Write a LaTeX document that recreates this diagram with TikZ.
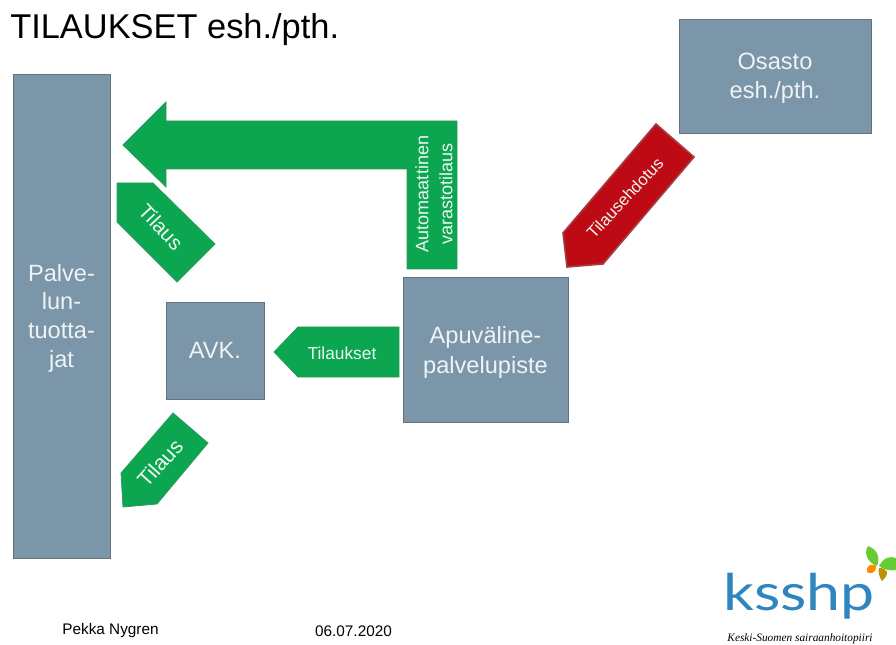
\documentclass[tikz,border=0pt]{standalone}
\usepackage{fontspec}
\setmainfont{Liberation Sans}
\newfontfamily\logofont{Lato}
\newfontfamily\logoserif{Liberation Serif}
\usetikzlibrary{positioning}
\definecolor{boxblue}{HTML}{7A96A8}
\definecolor{boxedge}{HTML}{62737F}
\definecolor{tagreen}{HTML}{0CA650}
\definecolor{tagred}{HTML}{BE0A14}
\definecolor{logoblue}{HTML}{2F86BE}
\tikzset{
  unitbox/.style={draw=boxedge, fill=boxblue, inner sep=0pt, line width=0.7pt},
  boxtext/.style={text=white!88!boxblue, align=center, inner sep=0pt, font=\fontsize{17.7}{21.5}\selectfont},
  greentag/.style={draw=tagreen!70!gray, fill=tagreen, line width=0.6pt},
  redtag/.style={draw=tagred!55!gray, fill=tagred, line width=1.2pt},
  taglabel/.style={text=white!92!tagreen, align=center, inner sep=0pt}
}
\begin{document}
\begin{tikzpicture}[x=0.75pt,y=-0.75pt]
  \useasboundingbox (0,0) rectangle (896,645);
  % Title
  \node[anchor=base west, inner sep=0pt, font=\fontsize{25.8}{30}\selectfont] (title) at (10,39) {TILAUKSET esh./pth.};
  % Boxes
  \node[unitbox, minimum width=72.75pt, minimum height=363pt, label={[boxtext, yshift=-1.5pt]center:{Palve-\\lun-\\tuotta-\\jat}}] (tuottajat) at (61.5,316) {};
  \node[unitbox, minimum width=144pt, minimum height=86pt, label={[boxtext, yshift=-1.5pt]center:{Osasto\\esh./pth.}}] (osasto) at (775,76.5) {};
  \node[unitbox, minimum width=73.5pt, minimum height=72.75pt, label={[boxtext]center:{AVK.}}] (avk) at (215,350.5) {};
  \node[unitbox, minimum width=123.75pt, minimum height=108.75pt, label={[boxtext, yshift=-2.5pt]center:{Apuväline-\\[1pt]palvelupiste}}] (piste) at (485.5,349.5) {};
  % Arrows
  \draw[greentag] (123,145) -- (166,102) -- (166,121) -- (457,121) -- (457,269) -- (407,269) -- (407,169) -- (166,169) -- (166,187) -- cycle;
  \draw[greentag] (117,183) -- (153,183) -- (215,244) -- (177,282) -- (117,222) -- cycle;
  \draw[greentag] (274,352) -- (298,327) -- (399,327) -- (399,377) -- (298,377) -- cycle;
  \draw[greentag] (173,413) -- (208,443) -- (157,504) -- (123,507) -- (121,473) -- cycle;
  \draw[redtag] (656,124) -- (694,157) -- (603,264) -- (567,267) -- (563,233) -- cycle;
  % Arrow labels
  \node[taglabel, rotate=90, font=\fontsize{13.5}{18}\selectfont] (automaatti) at (434,194) {Automaattinen\\varastotilaus};
  \node[taglabel, rotate=-47, font=\fontsize{15.5}{18}\selectfont] (tilausyla) at (161,227) {Tilaus};
  \node[taglabel, font=\fontsize{13}{15}\selectfont] (tilaukset) at (342,353) {Tilaukset};
  \node[taglabel, rotate=48, font=\fontsize{16}{18}\selectfont] (tilausala) at (160,463) {Tilaus};
  \node[taglabel, rotate=47, font=\fontsize{12.5}{15}\selectfont] (ehdotus) at (625,198) {Tilausehdotus};
  % Footer
  \node[inner sep=0pt, font=\fontsize{11.5}{14}\selectfont] (tekija) at (110.5,631) {Pekka Nygren};
  \node[inner sep=0pt, font=\fontsize{11.5}{14}\selectfont] (paiva) at (353.5,631) {06.07.2020};
  % Logo
  \node[anchor=base, inner sep=0pt, text=logoblue, font=\logofont\fontsize{38}{42}\selectfont] (ksshp) at (799,610) {\scalebox{1.2}[1]{ksshp}};
  \node[inner sep=0pt, font=\logoserif\itshape\fontsize{8.5}{10}\selectfont] (piiri) at (800,639) {Keski-Suomen sairaanhoitopiiri};
  \fill[green!50!olive!80!white] (877,566) .. controls (866,562) and (864,552) .. (868,546) .. controls (876,549) and (881,556) .. (877,566);
  \fill[green!50!olive!80!white] (879,566) .. controls (884,557) and (890,556) .. (896,558) -- (896,570) .. controls (890,571) and (884,570) .. (879,566);
  \fill[orange!90!yellow] (876,566) .. controls (869,562) and (866,568) .. (867,572) .. controls (871,575) and (877,572) .. (876,566);
  \fill[olive!60!orange] (879,568) .. controls (888,568) and (890,574) .. (882,581) .. controls (879,577) and (878,572) .. (879,568);
\end{tikzpicture}
\end{document}
